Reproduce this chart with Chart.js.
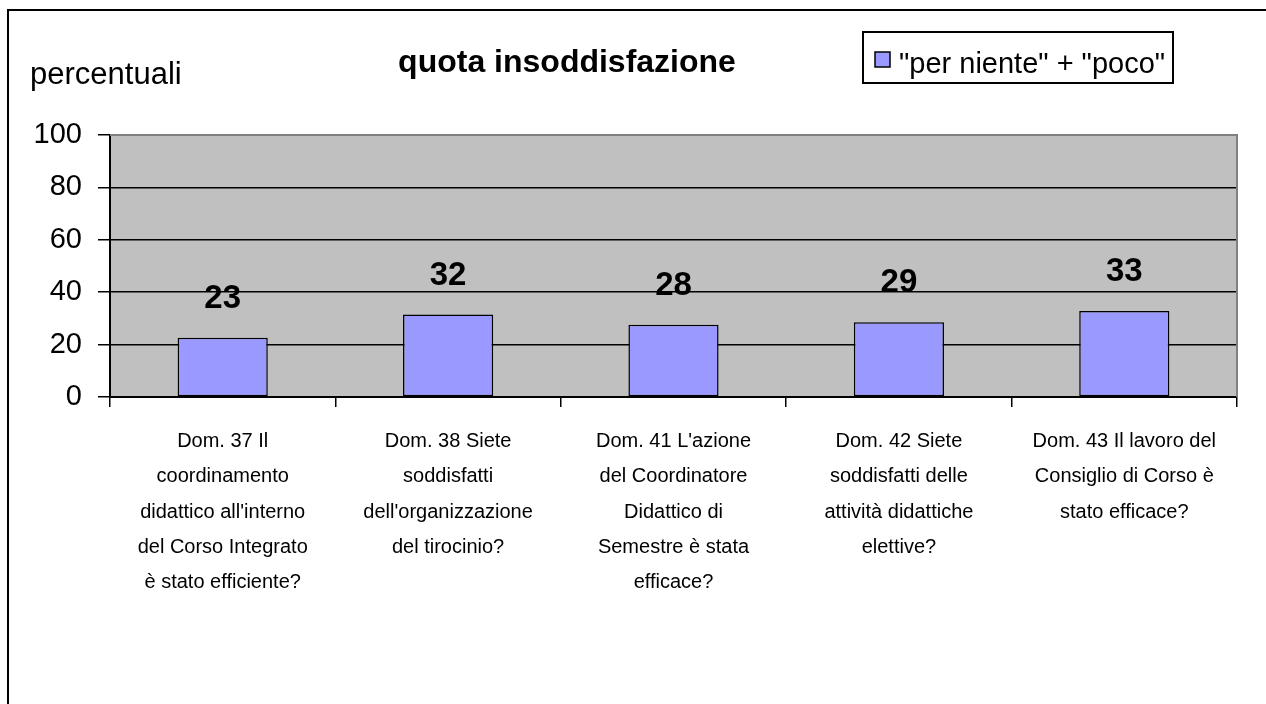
<!DOCTYPE html>
<html>
<head>
<meta charset="utf-8">
<script src="https://cdn.jsdelivr.net/npm/chart.js@4"></script>
<style>
  html, body { margin: 0; padding: 0; background: #fff; }
  canvas { display: block; }
</style>
</head>
<body>
<canvas id="chart" width="1266" height="704"></canvas>
<script>
// Data
const categories = [
  ['Dom. 37 Il', 'coordinamento', "didattico all'interno", 'del Corso Integrato', 'è stato efficiente?'],
  ['Dom. 38 Siete', 'soddisfatti', "dell'organizzazione", 'del tirocinio?'],
  ["Dom. 41 L'azione", 'del Coordinatore', 'Didattico di', 'Semestre è stata', 'efficace?'],
  ['Dom. 42 Siete', 'soddisfatti delle', 'attività didattiche', 'elettive?'],
  ['Dom. 43 Il lavoro del', 'Consiglio di Corso è', 'stato efficace?']
];
const insoddisfazione = [22.6, 31.5, 27.6, 28.5, 32.8];
const yTicks = [0, 20, 40, 60, 80, 100];
const seriesLabel = '"per niente" + "poco"';
const chartTitle = 'quota insoddisfazione';
const yAxisTitle = 'percentuali';

const FONT = '"Liberation Sans", Arial, sans-serif';
const BAR_COLOR = '#9999FF';

// gray plot area and its border
const plotBackground = {
  id: 'plotBackground',
  beforeDraw(chart) {
    const { ctx, chartArea: a } = chart;
    ctx.save();
    ctx.fillStyle = '#C0C0C0';
    ctx.fillRect(a.left, a.top, a.right - a.left, a.bottom - a.top);
    ctx.restore();
  },
  beforeDatasetsDraw(chart) {
    const { ctx, chartArea: a } = chart;
    ctx.save();
    ctx.strokeStyle = '#808080';
    ctx.lineWidth = 2;
    ctx.beginPath();
    ctx.moveTo(a.left, a.top);
    ctx.lineTo(a.right, a.top);
    ctx.lineTo(a.right, a.bottom);
    ctx.stroke();
    ctx.restore();
  }
};

// value labels above bars
const valueLabels = {
  id: 'valueLabels',
  afterDatasetsDraw(chart) {
    const { ctx } = chart;
    const meta = chart.getDatasetMeta(0);
    ctx.save();
    ctx.font = 'bold 33px ' + FONT;
    ctx.fillStyle = '#000';
    ctx.textAlign = 'center';
    ctx.textBaseline = 'middle';
    meta.data.forEach((bar, i) => {
      ctx.fillText(Math.round(insoddisfazione[i]), bar.x, bar.y - 39);
    });
    ctx.restore();
  }
};

// title, axis caption, legend box, frame
const decorations = {
  id: 'decorations',
  afterDraw(chart) {
    const { ctx } = chart;
    ctx.save();
    ctx.strokeStyle = '#000';
    ctx.lineWidth = 2;
    ctx.strokeRect(8, 10, 1300, 800);

    ctx.fillStyle = '#000';
    ctx.textBaseline = 'alphabetic';
    ctx.textAlign = 'center';
    ctx.font = 'bold 32px ' + FONT;
    ctx.fillText(chartTitle, 567, 72);

    ctx.textAlign = 'left';
    ctx.font = '31px ' + FONT;
    ctx.fillText(yAxisTitle, 30, 84);

    // legend
    ctx.lineWidth = 2;
    ctx.strokeRect(863, 32, 310, 51);
    ctx.fillStyle = BAR_COLOR;
    ctx.fillRect(875, 52, 15, 15);
    ctx.lineWidth = 1.5;
    ctx.strokeRect(875, 52, 15, 15);
    ctx.fillStyle = '#000';
    ctx.font = '29px ' + FONT;
    ctx.fillText(seriesLabel, 899, 73);
    ctx.restore();
  }
};

new Chart(document.getElementById('chart'), {
  type: 'bar',
  data: {
    labels: categories,
    datasets: [{
      label: seriesLabel,
      data: insoddisfazione,
      backgroundColor: BAR_COLOR,
      borderColor: '#000',
      borderWidth: 1.5,
      borderSkipped: false,
      barPercentage: 0.4,
      categoryPercentage: 1.0
    }]
  },
  options: {
    responsive: false,
    animation: false,
    devicePixelRatio: 1,
    layout: { padding: { left: 0, top: 135, right: 29, bottom: 0 } },
    plugins: {
      legend: { display: false },
      title: { display: false },
      tooltip: { enabled: false }
    },
    scales: {
      x: {
        grid: {
          offset: true,
          drawOnChartArea: false,
          color: '#000',
          tickColor: '#000',
          tickLength: 10,
          lineWidth: 1.5
        },
        border: { color: '#000', width: 2 },
        ticks: {
          color: '#000',
          font: { family: FONT, size: 20, lineHeight: 1.76 },
          padding: 17,
          maxRotation: 0,
          autoSkip: false
        },
        afterFit(scale) { scale.height = 307; }
      },
      y: {
        min: 0,
        max: 100,
        afterBuildTicks(scale) { scale.ticks = yTicks.map(v => ({ value: v })); },
        grid: {
          color: ctx => (ctx.tick && ctx.tick.value === 100 ? '#808080' : '#000'),
          tickColor: '#000',
          tickLength: 12,
          lineWidth: 1.5
        },
        border: { color: '#000', width: 2 },
        ticks: {
          color: '#000',
          font: { family: FONT, size: 29 },
          padding: 16
        },
        afterFit(scale) { scale.width = 110; }
      }
    }
  },
  plugins: [plotBackground, valueLabels, decorations]
});
</script>
</body>
</html>
